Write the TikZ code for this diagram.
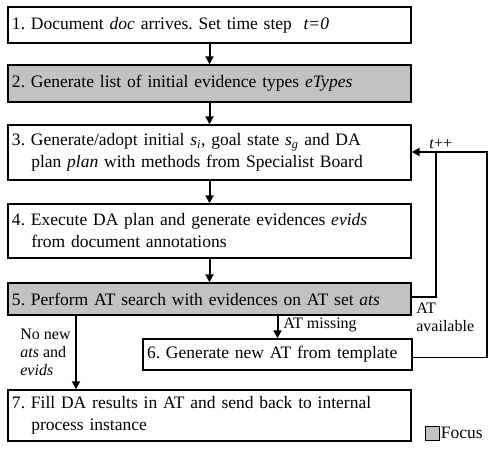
\documentclass[tikz,border=0pt]{standalone}
\usepackage{fontspec}
\setmainfont{Liberation Serif}
\usetikzlibrary{arrows.meta,calc}

\definecolor{focusgray}{RGB}{194,194,194}
\tikzset{
  every picture/.style={line width=1.2pt},
  stepbox/.style={draw, line width=1.4pt, align=left, inner sep=4pt,
    minimum width=403, anchor=center, font=\fontsize{17.5}{22}\selectfont},
  focusbox/.style={stepbox, fill=focusgray},
  flow/.style={line width=2pt, -{Triangle[length=8pt,width=8pt]}},
  backline/.style={line width=1.2pt},
  lbl/.style={inner sep=0.75pt, font=\fontsize{16}{18}\selectfont, align=left}
}
\newcommand{\hang}{\hspace*{1.1em}}
\newcommand{\sub}[2]{\textit{#1}\textsubscript{\textit{#2}}}
\frenchspacing

\begin{document}
\begin{tikzpicture}[x=1pt,y=1pt,yscale=-1,xscale=1]
	\useasboundingbox (0,0) rectangle (494,457);

	% Step boxes
	\node [stepbox, minimum height=36, text width=395] (doc) at (209.5,25) {1. Document \textit{doc} arrives. Set time step~ \textit{t=0}};
	\node [focusbox, minimum height=37, text width=395] (types) at (209.5,83.5) {2. Generate list of initial evidence types \textit{eTypes}};
	\node [stepbox, minimum height=55, text width=395] (plan) at (209.5,152.5) {3. Generate/adopt initial \sub{s}{i}, goal state \sub{s}{g} and DA\\\hang plan \textit{plan} with methods from Specialist Board};
	\node [stepbox, minimum height=54, text width=395] (exec) at (209.5,231) {4. Execute DA plan and generate evidences \textit{evids}\\\hang from document annotations};
	\node [focusbox, minimum height=32, text width=395] (search) at (209.5,299) {5. Perform AT search with evidences on AT set \textit{ats}};
	\node [stepbox, minimum width=269, minimum height=31, text width=261] (newat) at (277.5,354.5) {6. Generate new AT from template};
	\node [stepbox, minimum height=51, text width=395] (fill) at (209.5,415.5) {7. Fill DA results in AT and send back to internal\\\hang process instance};

	% Loop coordinates
	\coordinate (noleft) at (76,0);
	\coordinate (loopin) at (436,152);
	\coordinate (loopout) at (487,152);

	% Main flow
	\draw [flow] (doc) -- (types);
	\draw [flow] (types) -- (plan);
	\draw [flow] (plan) -- (exec);
	\draw [flow] (exec) -- (search);
	\draw [flow] (search.south -| newat.north) -- (newat.north);
	\draw [flow] (search.south -| noleft) -- (fill.north -| noleft);

	% Back loops
	\draw [flow] ([yshift=-2]search.east) -- ([yshift=-2]search.east -| loopin) -- (loopin) -- (plan.east |- loopin);
	\draw [backline] ([yshift=3]newat.east) -- ([yshift=3]newat.east -| loopout) -- (loopout) -- (loopin);

	% Labels
	\node [lbl, anchor=south west] (tinc) at (428,150) {\textit{t}++};
	\node [lbl, anchor=north west] (avail) at (415,302) {AT\\available};
	\node [lbl, anchor=west] (miss) at (282,325) {AT missing};
	\node [lbl, anchor=north west] (nonew) at (19,328) {No new\\\textit{ats} and\\\textit{evids}};

	% Legend
	\node [draw, line width=0.9pt, fill=focusgray, minimum size=14, inner sep=0pt] (legsq) at (432,433) {};
	\node [lbl, anchor=west, font=\fontsize{17.5}{20}\selectfont] (legtxt) at (legsq.east) {Focus};
\end{tikzpicture}
\end{document}
